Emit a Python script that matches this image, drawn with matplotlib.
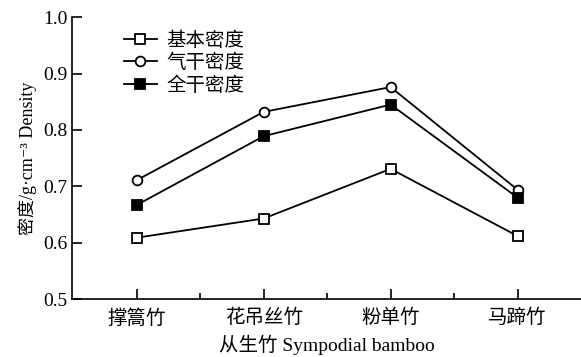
import matplotlib
matplotlib.use("Agg")
import matplotlib.pyplot as plt
from matplotlib.ticker import FixedLocator

plt.rcParams['font.family'] = ['Liberation Serif', 'Noto Sans CJK SC', 'DejaVu Serif']
plt.rcParams['axes.unicode_minus'] = False

species = ['撑篙竹', '花吊丝竹', '粉单竹', '马蹄竹']
basic = [0.609, 0.643, 0.731, 0.612]
air_dry = [0.711, 0.832, 0.876, 0.694]
oven_dry = [0.667, 0.789, 0.845, 0.680]
y_ticks = [0.5, 0.6, 0.7, 0.8, 0.9, 1.0]

fig = plt.figure(figsize=(5.81, 3.57), dpi=100)
ax = fig.add_axes([0.124, 0.162, 0.876, 0.790])

x = list(range(1, len(species) + 1))
ax.plot(x, basic, '-s', color='black', mfc='white', mec='black', ms=7, lw=1.3, mew=1.3, label='基本密度')
ax.plot(x, air_dry, '-o', color='black', mfc='white', mec='black', ms=7, lw=1.3, mew=1.3, label='气干密度')
ax.plot(x, oven_dry, '-s', color='black', mfc='black', mec='black', ms=7, lw=1.3, mew=1.3, label='全干密度')

ax.set_xlim(0.49, 4.5)
ax.set_ylim(0.5, 1.0)
ax.set_xticks(x)
ax.set_xticklabels(species, fontsize=14)
ax.xaxis.set_minor_locator(FixedLocator([1.5, 2.5, 3.5]))
ax.set_yticks(y_ticks)
ax.set_yticklabels(['%.1f' % v for v in y_ticks], fontsize=14)
ax.tick_params(which='major', direction='in', length=7, width=1.2)
ax.tick_params(which='minor', direction='in', length=4, width=1.2)
ax.tick_params(axis='x', which='major', pad=7)
ax.tick_params(axis='y', which='minor', left=False)

for s in ['top', 'right']:
    ax.spines[s].set_visible(False)
for s in ['left', 'bottom']:
    ax.spines[s].set_linewidth(1.2)

ax.set_xlabel('从生竹 Sympodial bamboo', fontsize=14, labelpad=5)
ax.set_ylabel('密度/g·cm⁻³ Density', fontsize=13, labelpad=4)

ax.legend(loc='upper left', bbox_to_anchor=(0.075, 0.997), frameon=False, fontsize=14,
          handlelength=1.7, handletextpad=0.5, labelspacing=0.2, borderpad=0.2)

fig.savefig('out.png', dpi=100)
